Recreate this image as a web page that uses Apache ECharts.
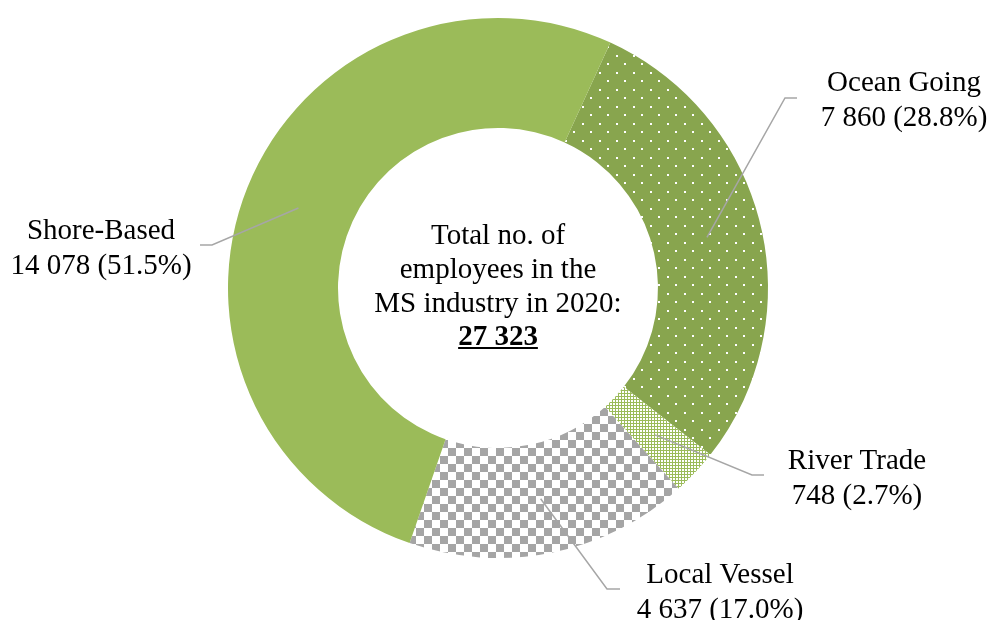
<!DOCTYPE html>
<html>
<head>
<meta charset="utf-8">
<script src="https://cdn.jsdelivr.net/npm/echarts@6/dist/echarts.min.js"></script>
<style>
  html, body { margin: 0; padding: 0; background: #fff; }
  #chart { width: 988px; height: 620px; }
</style>
</head>
<body>
<div id="chart"></div>
<script>
// data, clockwise from the top right
const categories = ['Ocean Going', 'River Trade', 'Local Vessel', 'Shore-Based'];
const employees = [7860, 748, 4637, 14078];
const centerLines = ['Total no. of', 'employees in the', 'MS industry in 2020:'];

// where each label block and its leader bend sit
const labelSpots = [
  { text: [904, 101], bend: [785, 98], end: [797, 98] },
  { text: [857, 479], bend: [752, 475], end: [764, 475] },
  { text: [720, 593], bend: [607, 589], end: [620, 589] },
  { text: [101, 249], bend: [212, 245], end: [200, 245] }
];

const FONT = '"Liberation Serif", "Times New Roman", serif';
const CX = 498, CY = 288, R0 = 160, R1 = 270, START = 65.4;

const fmt = n => String(n).replace(/\B(?=(\d{3})+(?!\d))/g, ' ');
const total = employees.reduce((a, b) => a + b, 0);

// pattern tiles
function makeTile(size, draw) {
  const c = document.createElement('canvas');
  c.width = c.height = size;
  draw(c.getContext('2d'));
  return c;
}
const oceanTile = makeTile(17, g => {
  g.fillStyle = '#88A54E'; g.fillRect(0, 0, 17, 17);
  g.fillStyle = '#fff'; g.fillRect(4, 4, 2, 2); g.fillRect(12, 12, 2, 2);
});
const riverTile = makeTile(3, g => {
  g.fillStyle = '#9BBB59'; g.fillRect(0, 0, 3, 3);
  g.fillStyle = '#fff'; g.fillRect(1, 1, 2, 2);
});
const localTile = makeTile(16, g => {
  g.fillStyle = '#fff'; g.fillRect(0, 0, 16, 16);
  g.fillStyle = '#A5A5A5'; g.fillRect(0, 0, 8, 8); g.fillRect(8, 8, 8, 8);
});
const fills = [
  { image: oceanTile, repeat: 'repeat' },
  { image: riverTile, repeat: 'repeat' },
  { image: localTile, repeat: 'repeat' },
  '#9BBB59'
];

// leader starts in the middle of the ring at the slice's mid angle
function midPoint(i) {
  let before = 0;
  for (let k = 0; k < i; k++) before += employees[k];
  const a = (START - 360 * (before + employees[i] / 2) / total) * Math.PI / 180;
  const r = (R0 + R1) / 2;
  return [CX + r * Math.cos(a), CY - r * Math.sin(a)];
}

// leaders sit on top of the ring, so draw them as graphics
const leaders = labelSpots.map((s, i) => ({
  type: 'polyline',
  silent: true,
  z: 10,
  shape: { points: [midPoint(i), s.bend, s.end] },
  style: { stroke: '#A6A6A6', lineWidth: 1.5, fill: null }
}));

// underline width for the total
const meas = document.createElement('canvas').getContext('2d');
meas.font = 'bold 29px ' + FONT;
const totalText = fmt(total);
const uw = meas.measureText(totalText).width;

const chart = echarts.init(document.getElementById('chart'));
chart.setOption({
  animation: false,
  series: [{
    type: 'pie',
    center: [CX, CY],
    radius: [R0, R1],
    startAngle: START,
    clockwise: true,
    silent: true,
    percentPrecision: 1,
    data: categories.map((name, i) => ({
      name: name,
      value: employees[i],
      itemStyle: { color: fills[i] }
    })),
    label: {
      show: true,
      position: 'outside',
      formatter: p => p.name + '\n' + fmt(p.value) + ' (' + p.percent.toFixed(1) + '%)',
      fontFamily: FONT,
      fontSize: 29,
      lineHeight: 35,
      color: '#000',
      align: 'center'
    },
    labelLine: { show: false },
    labelLayout: p => {
      const s = labelSpots[p.dataIndex];
      return {
        x: s.text[0],
        y: s.text[1],
        align: 'center',
        verticalAlign: 'middle'
      };
    }
  }],
  graphic: leaders.concat([
    {
      type: 'text',
      x: CX,
      y: 287,
      silent: true,
      style: {
        text: centerLines.join('\n') + '\n{t|' + totalText + '}',
        font: '29px ' + FONT,
        lineHeight: 34,
        fill: '#000',
        align: 'center',
        verticalAlign: 'middle',
        rich: {
          t: { fontFamily: FONT, fontSize: 29, fontWeight: 'bold', lineHeight: 34 }
        }
      }
    },
    {
      type: 'line',
      silent: true,
      shape: { x1: CX - uw / 2, y1: 348, x2: CX + uw / 2, y2: 348 },
      style: { stroke: '#000', lineWidth: 2 }
    }
  ])
});
</script>
</body>
</html>
